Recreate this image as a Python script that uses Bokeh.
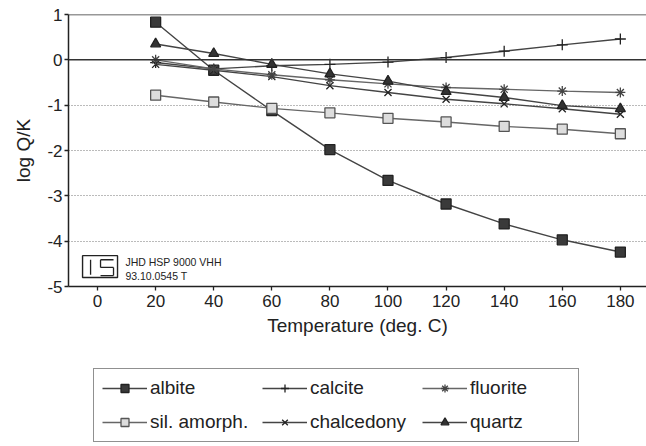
from bokeh.plotting import figure
from bokeh.layouts import column
from bokeh.models import Range1d, Span, Legend, LegendItem, FixedTicker, Label
from bokeh.embed import file_html
from bokeh.resources import INLINE

temps = [20, 40, 60, 80, 100, 120, 140, 160, 180]
albite = [0.83, -0.23, -1.12, -1.98, -2.66, -3.18, -3.62, -3.97, -4.24]
calcite = [-0.06, -0.2, -0.13, -0.1, -0.05, 0.05, 0.19, 0.33, 0.46]
fluorite = [0.0, -0.2, -0.33, -0.44, -0.53, -0.61, -0.65, -0.69, -0.72]
sil_amorph = [-0.78, -0.93, -1.07, -1.17, -1.29, -1.37, -1.47, -1.53, -1.63]
chalcedony = [-0.1, -0.23, -0.37, -0.57, -0.72, -0.87, -0.97, -1.08, -1.2]
quartz = [0.35, 0.14, -0.1, -0.31, -0.47, -0.7, -0.83, -1.01, -1.08]

x_ticks = [0, 20, 40, 60, 80, 100, 120, 140, 160, 180]
y_ticks = [-5, -4, -3, -2, -1, 0, 1]

FONT = "Liberation Sans"
TXT = "#222222"

p = figure(width=646, height=350, output_backend="svg", toolbar_location=None,
           x_range=Range1d(-10, 189), y_range=Range1d(-5, 1),
           min_border_left=68, min_border_right=0, min_border_top=14,
           min_border_bottom=64)
p.outline_line_color = None
p.background_fill_color = "white"

p.xgrid.visible = False
p.ygrid.ticker = FixedTicker(ticks=[-4, -3, -2, -1])
p.ygrid.grid_line_color = "#777777"
p.ygrid.grid_line_dash = "1 2"
p.ygrid.grid_line_width = 1.2

for v in (0, 1):
    p.add_layout(Span(location=v, dimension="width", line_color="#333333", line_width=1.5))

p.xaxis.ticker = FixedTicker(ticks=x_ticks)
p.yaxis.ticker = FixedTicker(ticks=y_ticks)
p.yaxis.major_label_overrides = {t: str(t) for t in y_ticks}
for ax in (p.xaxis[0], p.yaxis[0]):
    ax.axis_line_color = "#222222"
    ax.axis_line_width = 1.5
    ax.major_tick_line_color = "#222222"
    ax.major_tick_line_width = 1.3
    ax.major_tick_out = 4
    ax.major_tick_in = 0
    ax.minor_tick_line_color = None
    ax.major_label_text_font = FONT
    ax.major_label_text_font_size = "17px"
    ax.major_label_text_color = TXT
    ax.axis_label_text_font = FONT
    ax.axis_label_text_font_size = "19px"
    ax.axis_label_text_font_style = "normal"
    ax.axis_label_text_color = TXT
p.xaxis.axis_label = "Temperature (deg. C)"
p.yaxis.axis_label = "log Q/K"
p.xaxis.major_label_standoff = 4
p.xaxis.axis_label_standoff = 5
p.yaxis.major_label_standoff = 2
p.yaxis.axis_label_standoff = 10

# ordered column-wise so the legend rows read: albite, calcite, fluorite / sil. amorph., chalcedony, quartz
styles = [
    ("albite", albite, "square", 10, "#3a3a3a", "#444444", "#222222"),
    ("sil. amorph.", sil_amorph, "square", 10, "#dddddd", "#666666", "#555555"),
    ("calcite", calcite, "cross", 11, None, "#444444", "#222222"),
    ("chalcedony", chalcedony, "x", 10, None, "#444444", "#222222"),
    ("fluorite", fluorite, "asterisk", 10, None, "#666666", "#444444"),
    ("quartz", quartz, "triangle", 10, "#333333", "#444444", "#222222"),
]

# legend figure below the chart (its own data stays outside its visible range)
lg = figure(width=646, height=96, output_backend="svg", toolbar_location=None,
            x_range=Range1d(0, 1), y_range=Range1d(1000, 1001),
            min_border_left=0, min_border_right=0, min_border_top=0, min_border_bottom=0)
lg.axis.visible = False
lg.grid.visible = False
lg.outline_line_color = None

items = []
for name, ys, marker, size, fill, lcol, mcol in styles:
    p.line(temps, ys, line_color=lcol, line_width=1.4)
    p.scatter(temps, ys, marker=marker, size=size, fill_color=fill,
              line_color=mcol, line_width=1.3)
    r1 = lg.line(temps, ys, line_color=lcol, line_width=1.4)
    r2 = lg.scatter(temps, ys, marker=marker, size=size - 2, fill_color=fill,
                    line_color=mcol, line_width=1.3)
    items.append(LegendItem(label=name, renderers=[r1, r2]))

legend = Legend(items=items, ncols=3, location=(25, 4))
legend.label_text_font = FONT
legend.label_text_font_size = "19px"
legend.label_text_color = TXT
legend.border_line_color = "#222222"
legend.border_line_width = 1.5
legend.background_fill_color = "white"
legend.glyph_width = 45
legend.glyph_height = 20
legend.label_height = 20
legend.label_width = 100
legend.spacing = 12
legend.padding = 8
legend.margin = 0
legend.label_standoff = 3
lg.add_layout(legend, "center")

# small logo box in lower left of chart
p.quad(left=[-5.16], right=[6.88], bottom=[-4.80], top=[-4.32],
       fill_color=None, line_color="#222222", line_width=1.4)
p.segment(x0=[-2.4, 1.03, 1.03, 1.03, 5.5, 1.03],
          y0=[-4.41, -4.41, -4.41, -4.58, -4.58, -4.76],
          x1=[-2.4, 5.5, 1.03, 5.5, 5.5, 5.5],
          y1=[-4.74, -4.41, -4.58, -4.58, -4.76, -4.76],
          line_color="#222222", line_width=1.3)
p.add_layout(Label(x=9.6, y=-4.47, text="JHD HSP 9000 VHH", text_font=FONT,
                   text_font_size="10.5px", text_color=TXT, text_baseline="middle"))
p.add_layout(Label(x=9.6, y=-4.76, text="93.10.0545 T", text_font=FONT,
                   text_font_size="10.5px", text_color=TXT, text_baseline="middle"))

layout = column(p, lg, spacing=0)
open("out.html", "w").write(file_html(layout, INLINE))
